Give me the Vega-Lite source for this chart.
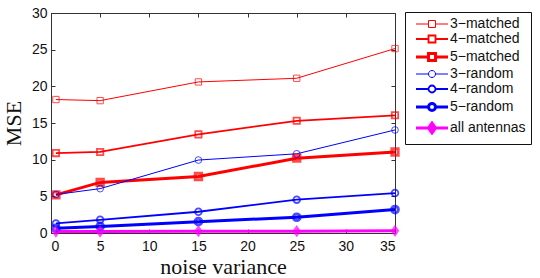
{
  "$schema": "https://vega.github.io/schema/vega-lite/v6.json",
  "width": 344,
  "height": 220,
  "autosize": {"type": "none"},
  "padding": {"left": 51, "top": 13, "right": 145, "bottom": 45},
  "background": "white",
  "config": {
    "view": {"stroke": "#333333", "strokeWidth": 1},
    "axis": {
      "grid": false,
      "domainColor": "#333333",
      "tickColor": "#333333",
      "tickSize": -4,
      "labelFont": "Liberation Sans",
      "labelFontSize": 14,
      "labelColor": "#111111",
      "titleFont": "Liberation Serif",
      "titleFontSize": 22,
      "titleFontWeight": "normal",
      "titleColor": "#111111"
    }
  },
  "data": {
    "values": [
      {"x": 0.5, "mse": 18.2, "series": "3−matched"},
      {"x": 5, "mse": 18.05, "series": "3−matched"},
      {"x": 15, "mse": 20.6, "series": "3−matched"},
      {"x": 25, "mse": 21.1, "series": "3−matched"},
      {"x": 35, "mse": 25.15, "series": "3−matched"},
      {"x": 0.5, "mse": 10.9, "series": "4−matched"},
      {"x": 5, "mse": 11.05, "series": "4−matched"},
      {"x": 15, "mse": 13.45, "series": "4−matched"},
      {"x": 25, "mse": 15.3, "series": "4−matched"},
      {"x": 35, "mse": 16.05, "series": "4−matched"},
      {"x": 0.5, "mse": 5.2, "series": "5−matched"},
      {"x": 5, "mse": 6.9, "series": "5−matched"},
      {"x": 15, "mse": 7.7, "series": "5−matched"},
      {"x": 25, "mse": 10.2, "series": "5−matched"},
      {"x": 35, "mse": 11.05, "series": "5−matched"},
      {"x": 0.5, "mse": 5.25, "series": "3−random"},
      {"x": 5, "mse": 6.05, "series": "3−random"},
      {"x": 15, "mse": 9.95, "series": "3−random"},
      {"x": 25, "mse": 10.8, "series": "3−random"},
      {"x": 35, "mse": 14.05, "series": "3−random"},
      {"x": 0.5, "mse": 1.3, "series": "4−random"},
      {"x": 5, "mse": 1.8, "series": "4−random"},
      {"x": 15, "mse": 2.9, "series": "4−random"},
      {"x": 25, "mse": 4.55, "series": "4−random"},
      {"x": 35, "mse": 5.45, "series": "4−random"},
      {"x": 0.5, "mse": 0.65, "series": "5−random"},
      {"x": 5, "mse": 0.9, "series": "5−random"},
      {"x": 15, "mse": 1.55, "series": "5−random"},
      {"x": 25, "mse": 2.15, "series": "5−random"},
      {"x": 35, "mse": 3.2, "series": "5−random"},
      {"x": 0.5, "mse": 0.2, "series": "all antennas"},
      {"x": 5, "mse": 0.2, "series": "all antennas"},
      {"x": 15, "mse": 0.25, "series": "all antennas"},
      {"x": 25, "mse": 0.25, "series": "all antennas"},
      {"x": 35, "mse": 0.3, "series": "all antennas"}
    ]
  },
  "encoding": {
    "x": {"field": "x", "type": "quantitative", "scale": {"domain": [0, 35], "nice": false}},
    "y": {"field": "mse", "type": "quantitative", "scale": {"domain": [0, 30], "nice": false}},
    "stroke": {
      "field": "series", "type": "nominal",
      "scale": {"domain": ["3−matched", "4−matched", "5−matched", "3−random", "4−random", "5−random", "all antennas"],
                "range": ["#FF0000", "#FF0000", "#FF0000", "#0000FF", "#0000FF", "#0000FF", "#FF00FF"]},
      "legend": null
    },
    "strokeWidth": {
      "field": "series", "type": "nominal",
      "scale": {"type": "ordinal", "domain": ["3−matched", "4−matched", "5−matched", "3−random", "4−random", "5−random", "all antennas"],
                "range": [1, 1.8, 3, 1, 1.8, 3, 3]},
      "legend": null
    }
  },
  "layer": [
    {
      "mark": {"type": "line", "clip": false},
      "encoding": {
        "x": {"field": "x", "type": "quantitative",
              "axis": {"title": "noise variance", "values": [0, 5, 10, 15, 20, 25, 30, 35], "labelPadding": 10, "titlePadding": 3}},
        "y": {"field": "mse", "type": "quantitative",
              "axis": {"title": "MSE", "values": [0, 5, 10, 15, 20, 25, 30], "labelPadding": 8, "titlePadding": 6}},
        "stroke": {
          "field": "series", "type": "nominal",
          "legend": {
            "title": null,
            "orient": "none",
            "legendX": 354,
            "legendY": -1,
            "strokeColor": "#111111",
            "fillColor": "white",
            "padding": 5,
            "symbolSize": 64,
            "symbolOffset": 15,
            "labelOffset": 11,
            "labelFont": "Liberation Sans",
            "labelFontSize": 14,
            "labelColor": "#111111",
            "rowPadding": 0,
            "encode": {
              "symbols": {
                "enter": {
                  "shape": {"signal": "indexof(datum.value,'matched')>=0 ? 'M-4,0H-0.875M0.875,0H4M-0.875,-0.875H0.875V0.875H-0.875Z' : indexof(datum.value,'random')>=0 ? 'M-4,0H-0.875M0.875,0H4M0.875,0A0.875,0.875 0 1,1 -0.875,0A0.875,0.875 0 1,1 0.875,0Z' : 'M-4,0H-0.875M0.875,0H4M0,-1.25L0.875,0L0,1.25L-0.875,0Z'"},
                  "strokeWidth": {"signal": "datum.value[0]=='3' ? 1 : datum.value[0]=='4' ? 1.8 : 3"}
                },
                "update": {
                  "shape": {"signal": "indexof(datum.value,'matched')>=0 ? 'M-4,0H-0.875M0.875,0H4M-0.875,-0.875H0.875V0.875H-0.875Z' : indexof(datum.value,'random')>=0 ? 'M-4,0H-0.875M0.875,0H4M0.875,0A0.875,0.875 0 1,1 -0.875,0A0.875,0.875 0 1,1 0.875,0Z' : 'M-4,0H-0.875M0.875,0H4M0,-1.25L0.875,0L0,1.25L-0.875,0Z'"},
                  "strokeWidth": {"signal": "datum.value[0]=='3' ? 1 : datum.value[0]=='4' ? 1.8 : 3"},
                  "fill": {"signal": "datum.value=='all antennas' ? '#FF00FF' : 'white'"},
                  "size": {"value": 64}
                }
              }
            }
          }
        }
      }
    },
    {
      "transform": [{"filter": "indexof(datum.series,'matched')>=0"}],
      "mark": {"type": "point", "shape": "square", "filled": false, "clip": false, "size": 40},
      "encoding": {
        "x": {"field": "x", "type": "quantitative",
              "axis": {"orient": "top", "labels": false, "title": null, "values": [0, 5, 10, 15, 20, 25, 30, 35], "domain": false}},
        "y": {"field": "mse", "type": "quantitative",
              "axis": {"orient": "right", "labels": false, "title": null, "values": [0, 5, 10, 15, 20, 25, 30], "domain": false}}
      }
    },
    {
      "transform": [{"filter": "indexof(datum.series,'random')>=0"}],
      "mark": {"type": "point", "shape": "circle", "filled": false, "clip": false, "size": 45},
      "encoding": {
        "x": {"field": "x", "type": "quantitative", "axis": null},
        "y": {"field": "mse", "type": "quantitative", "axis": null}
      }
    },
    {
      "transform": [{"filter": "datum.series == 'all antennas'"}],
      "mark": {"type": "point", "shape": "M0,-1L0.7,0L0,1L-0.7,0Z", "filled": false, "clip": false, "size": 50},
      "encoding": {
        "x": {"field": "x", "type": "quantitative", "axis": null},
        "y": {"field": "mse", "type": "quantitative", "axis": null}
      }
    }
  ],
  "resolve": {"axis": {"x": "independent", "y": "independent"}}
}
